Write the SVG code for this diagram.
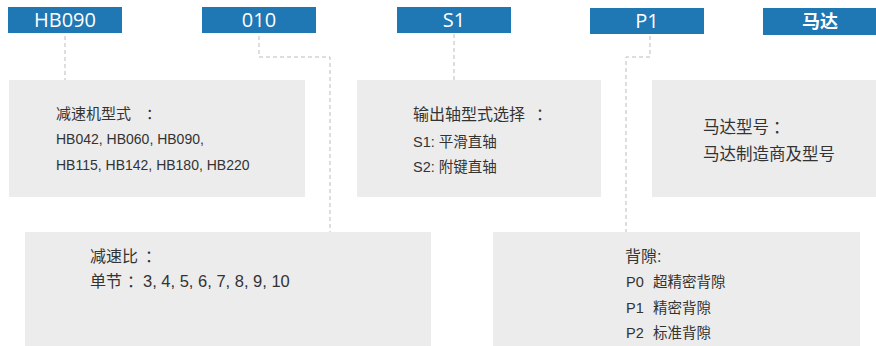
<svg xmlns="http://www.w3.org/2000/svg" width="876" height="346" viewBox="0 0 876 346">
<style>
.hd{fill:#1f77b4}
.hdt{font-family:"Open Sans","Liberation Sans",sans-serif;font-size:20px;fill:#fff;text-anchor:middle}
.hdc{font-family:"Noto Sans CJK SC",sans-serif;font-size:18px;font-weight:bold;fill:#fff;text-anchor:middle}
.bx{fill:#ececec}
.t{font-family:"Liberation Sans","Noto Sans CJK SC",sans-serif;fill:#333}
.c{fill:none;stroke:#bdbdbd;stroke-width:1;stroke-dasharray:4 3}
</style>
<rect width="876" height="346" fill="#fff"/>
<g id="connectors">
<path class="c" d="M65 36V80"/>
<path class="c" d="M259 36V57H330V232"/>
<path class="c" d="M454 34V80"/>
<path class="c" d="M650 36V57H626V232"/>
</g>
<g id="h-hb090"><rect class="hd" x="8" y="7" width="114" height="26"/><text class="hdt" x="65" y="27">HB090</text></g>
<g id="h-010"><rect class="hd" x="202" y="7" width="114" height="26"/><text class="hdt" x="259" y="27">010</text></g>
<g id="h-s1"><rect class="hd" x="397" y="7" width="114" height="26"/><text class="hdt" x="454" y="27">S1</text></g>
<g id="h-p1"><rect class="hd" x="590" y="8" width="114" height="26"/><text class="hdt" x="647" y="28">P1</text></g>
<g id="h-motor"><rect class="hd" x="763" y="8" width="113" height="27"/><text class="hdc" x="820" y="28">马达</text></g>
<g id="b-model"><rect class="bx" x="9" y="80" width="296" height="117"/>
<text class="t" x="56" y="119" font-size="15">减速机型式<tspan x="146">：</tspan></text>
<text class="t" x="56" y="144" font-size="14">HB042, HB060, HB090,</text>
<text class="t" x="56" y="170" font-size="14">HB115, HB142, HB180, HB220</text></g>
<g id="b-shaft"><rect class="bx" x="357" y="80" width="244" height="117"/>
<text class="t" x="413" y="120" font-size="16">输出轴型式选择<tspan x="536">：</tspan></text>
<text class="t" x="413" y="147" font-size="14.5">S1: 平滑直轴</text>
<text class="t" x="413" y="172" font-size="14.5">S2: 附键直轴</text></g>
<g id="b-motor"><rect class="bx" x="652" y="80" width="224" height="117"/>
<text class="t" x="703" y="133" font-size="16.5">马达型号<tspan x="773">：</tspan></text>
<text class="t" x="703" y="160" font-size="16.5">马达制造商及型号</text></g>
<g id="b-ratio"><rect class="bx" x="25" y="232" width="406" height="114"/>
<text class="t" x="90" y="262" font-size="16">减速比<tspan x="145">：</tspan></text>
<text class="t" x="90" y="287" font-size="16">单节<tspan x="127">：</tspan><tspan x="143" font-size="16.5">3, 4, 5, 6, 7, 8, 9, 10</tspan></text></g>
<g id="b-backlash"><rect class="bx" x="493" y="232" width="367" height="114"/>
<text class="t" x="625" y="262" font-size="16">背隙:</text>
<text class="t" x="626" y="287" font-size="14.5">P0<tspan x="653">超精密背隙</tspan></text>
<text class="t" x="626" y="313" font-size="14.5">P1<tspan x="653">精密背隙</tspan></text>
<text class="t" x="626" y="338" font-size="14.5">P2<tspan x="653">标准背隙</tspan></text></g>
</svg>
